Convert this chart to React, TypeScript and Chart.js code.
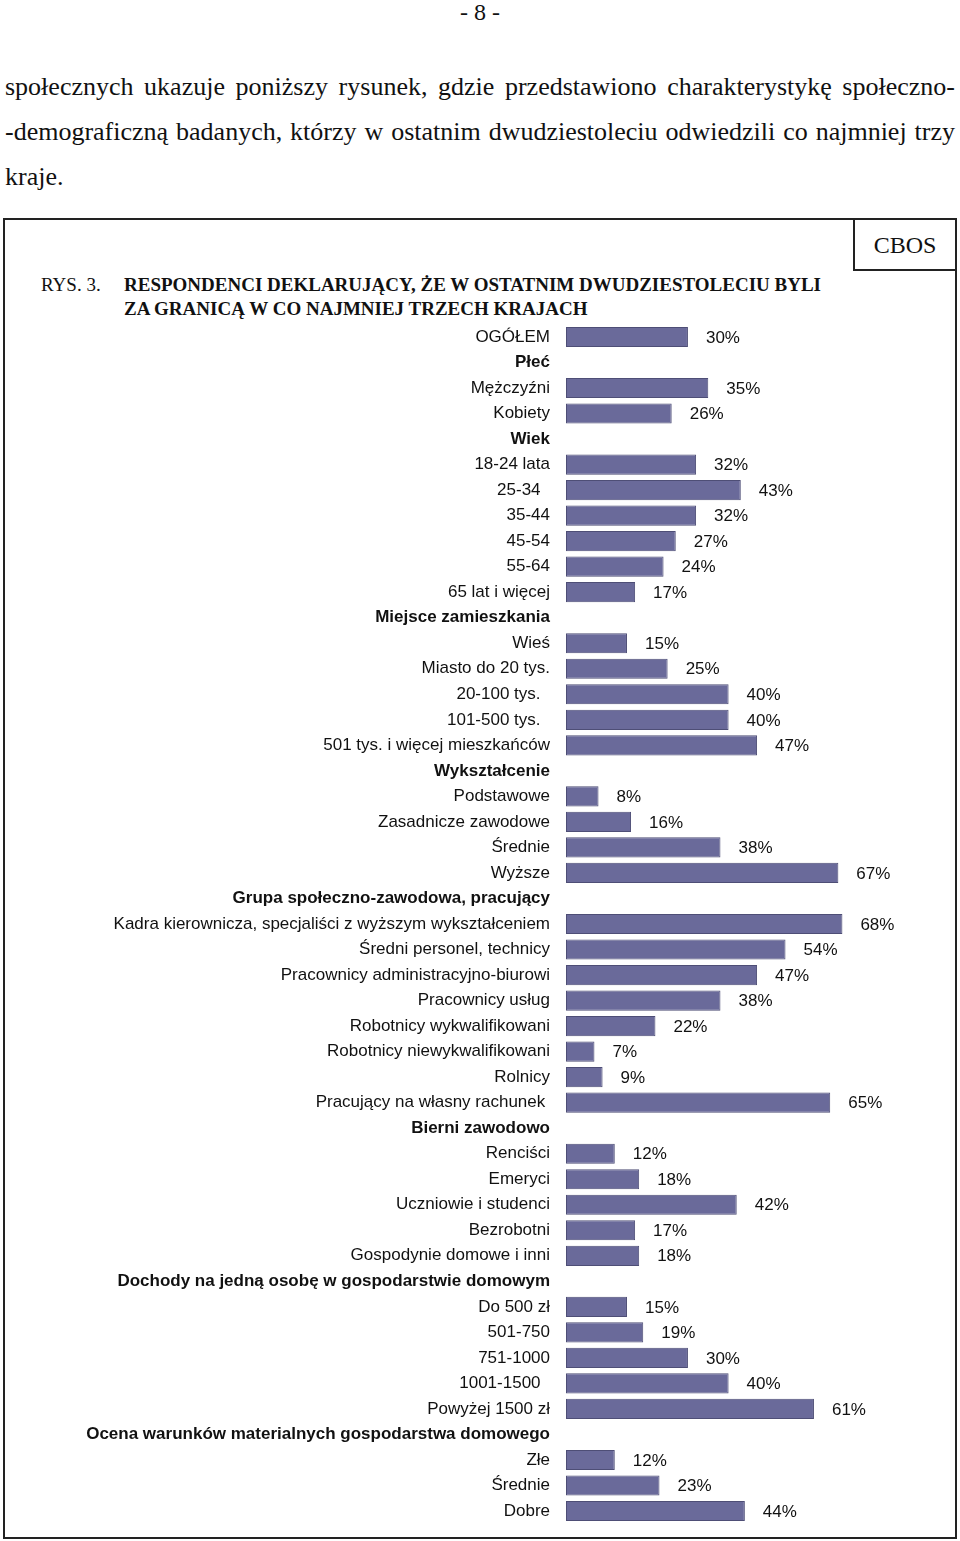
import React, { useEffect, useRef } from "react";
import { Chart, registerables } from "chart.js";
Chart.register(...registerables);

const SANS = '"Liberation Sans", Arial, sans-serif';
const SERIF = '"Liberation Serif", "Times New Roman", serif';

// ---- data ----
const totalLabels = ["OGÓŁEM"];
const totalValues = [30];

const sexHeader = "Płeć";
const sexLabels = ["Mężczyźni", "Kobiety"];
const sexValues = [35, 26];

const ageHeader = "Wiek";
const ageLabels = ["18-24 lata", "25-34  ", "35-44", "45-54", "55-64", "65 lat i więcej"];
const ageValues = [32, 43, 32, 27, 24, 17];

const placeHeader = "Miejsce zamieszkania";
const placeLabels = ["Wieś", "Miasto do 20 tys.", "20-100 tys.  ", "101-500 tys.  ", "501 tys. i więcej mieszkańców"];
const placeValues = [15, 25, 40, 40, 47];

const eduHeader = "Wykształcenie";
const eduLabels = ["Podstawowe", "Zasadnicze zawodowe", "Średnie", "Wyższe"];
const eduValues = [8, 16, 38, 67];

const workHeader = "Grupa społeczno-zawodowa, pracujący";
const workLabels = [
  "Kadra kierownicza, specjaliści z wyższym wykształceniem",
  "Średni personel, technicy",
  "Pracownicy administracyjno-biurowi",
  "Pracownicy usług",
  "Robotnicy wykwalifikowani",
  "Robotnicy niewykwalifikowani",
  "Rolnicy",
  "Pracujący na własny rachunek ",
];
const workValues = [68, 54, 47, 38, 22, 7, 9, 65];

const inactiveHeader = "Bierni zawodowo";
const inactiveLabels = ["Renciści", "Emeryci", "Uczniowie i studenci", "Bezrobotni", "Gospodynie domowe i inni"];
const inactiveValues = [12, 18, 42, 17, 18];

const incomeHeader = "Dochody na jedną osobę w gospodarstwie domowym";
const incomeLabels = ["Do 500 zł", "501-750", "751-1000", "1001-1500  ", "Powyżej 1500 zł"];
const incomeValues = [15, 19, 30, 40, 61];

const condHeader = "Ocena warunków materialnych gospodarstwa domowego";
const condLabels = ["Złe", "Średnie", "Dobre"];
const condValues = [12, 23, 44];

type Row = { label: string; value: number | null; header: boolean };
function section(header: string | null, labels: string[], values: number[]): Row[] {
  const rows: Row[] = [];
  if (header) rows.push({ label: header, value: null, header: true });
  labels.forEach((l, i) => rows.push({ label: l, value: values[i], header: false }));
  return rows;
}

const rows: Row[] = [
  ...section(null, totalLabels, totalValues),
  ...section(sexHeader, sexLabels, sexValues),
  ...section(ageHeader, ageLabels, ageValues),
  ...section(placeHeader, placeLabels, placeValues),
  ...section(eduHeader, eduLabels, eduValues),
  ...section(workHeader, workLabels, workValues),
  ...section(inactiveHeader, inactiveLabels, inactiveValues),
  ...section(incomeHeader, incomeLabels, incomeValues),
  ...section(condHeader, condLabels, condValues),
];

const categories = rows.map((r) => r.label);
const values = rows.map((r) => r.value);
const isHeader = rows.map((r) => r.header);

const valueLabelPlugin = {
  id: "valueLabels",
  afterDatasetsDraw(chart: any) {
    const ctx = chart.ctx;
    const meta = chart.getDatasetMeta(0);
    ctx.save();
    ctx.font = `17px ${SANS}`;
    ctx.fillStyle = "#111";
    ctx.textAlign = "left";
    ctx.textBaseline = "middle";
    meta.data.forEach((bar: any, i: number) => {
      const v = values[i];
      if (v == null) return;
      ctx.fillText(`${v}%`, bar.x + 18, bar.y + 1);
    });
    ctx.restore();
  },
};

function BarChart() {
  const ref = useRef<HTMLCanvasElement | null>(null);
  useEffect(() => {
    if (!ref.current) return;
    const chart = new Chart(ref.current, {
      type: "bar",
      data: {
        labels: categories,
        datasets: [
          {
            data: values as any,
            backgroundColor: "#6a6a9a",
            borderColor: "#4e4e76",
            borderWidth: 1,
            borderSkipped: false,
            categoryPercentage: 1,
            barPercentage: 0.79,
          },
        ],
      },
      options: {
        indexAxis: "y",
        responsive: false,
        animation: false,
        layout: { padding: { top: 15.2, bottom: 15.2, left: 0, right: 23.15 } },
        plugins: { legend: { display: false }, tooltip: { enabled: false } },
        scales: {
          x: { display: false, min: 0, max: 90 },
          y: {
            grid: { display: false, drawTicks: false },
            border: { display: false },
            afterFit(scale: any) {
              scale.width = 561;
              scale.paddingTop = 0;
              scale.paddingBottom = 0;
            },
            ticks: {
              autoSkip: false,
              padding: 16,
              color: "#111",
              font: (c: any) => ({
                family: SANS,
                size: 17,
                weight: isHeader[c.index] ? "bold" : "normal",
              }),
            },
          },
        },
      },
      plugins: [valueLabelPlugin],
    } as any);
    return () => chart.destroy();
  }, []);
  return (
    <canvas
      ref={ref}
      width={950}
      height={1230}
      style={{ position: "absolute", left: 5, top: 309, width: 950, height: 1230, display: "block" }}
    />
  );
}

const lineStyle: React.CSSProperties = {
  position: "absolute",
  left: 5,
  width: 950,
  fontFamily: SERIF,
  fontSize: 26,
  lineHeight: "45px",
  textAlign: "justify",
  textAlignLast: "justify" as any,
  whiteSpace: "nowrap",
  color: "#111",
};

export default function App() {
  useEffect(() => {
    document.body.style.margin = "0";
  }, []);
  return (
    <div style={{ position: "relative", width: 960, height: 1541, background: "#fff", overflow: "hidden" }}>
      <div
        style={{
          position: "absolute",
          left: 0,
          width: 960,
          top: 0,
          textAlign: "center",
          fontFamily: SERIF,
          fontSize: 24,
          lineHeight: "24px",
          color: "#111",
        }}
      >
        - 8 -
      </div>
      <div style={{ ...lineStyle, top: 64 }}>
        społecznych ukazuje poniższy rysunek, gdzie przedstawiono charakterystykę społeczno-
      </div>
      <div style={{ ...lineStyle, top: 109 }}>
        -demograficzną badanych, którzy w ostatnim dwudziestoleciu odwiedzili co najmniej trzy
      </div>
      <div style={{ ...lineStyle, top: 154, textAlign: "left", textAlignLast: "left" as any }}>kraje.</div>

      {/* frame */}
      <div
        style={{
          position: "absolute",
          left: 3,
          top: 218,
          width: 954,
          height: 1321,
          border: "2px solid #222",
          boxSizing: "border-box",
        }}
      />
      <div
        style={{
          position: "absolute",
          left: 853,
          top: 218,
          width: 104,
          height: 53,
          border: "2px solid #222",
          boxSizing: "border-box",
          fontFamily: SERIF,
          fontSize: 24,
          lineHeight: "50px",
          textAlign: "center",
          color: "#111",
        }}
      >
        CBOS
      </div>
      <div
        style={{
          position: "absolute",
          left: 41,
          top: 273,
          fontFamily: SERIF,
          fontSize: 19,
          lineHeight: "24px",
          color: "#111",
          whiteSpace: "nowrap",
        }}
      >
        RYS. 3.
      </div>
      <div
        style={{
          position: "absolute",
          left: 124,
          top: 273,
          fontFamily: SERIF,
          fontSize: 19,
          fontWeight: "bold",
          lineHeight: "24px",
          color: "#111",
          whiteSpace: "nowrap",
        }}
      >
        RESPONDENCI DEKLARUJĄCY, ŻE W OSTATNIM DWUDZIESTOLECIU BYLI
        <br />
        ZA GRANICĄ W CO NAJMNIEJ TRZECH KRAJACH
      </div>
      <BarChart />
    </div>
  );
}
